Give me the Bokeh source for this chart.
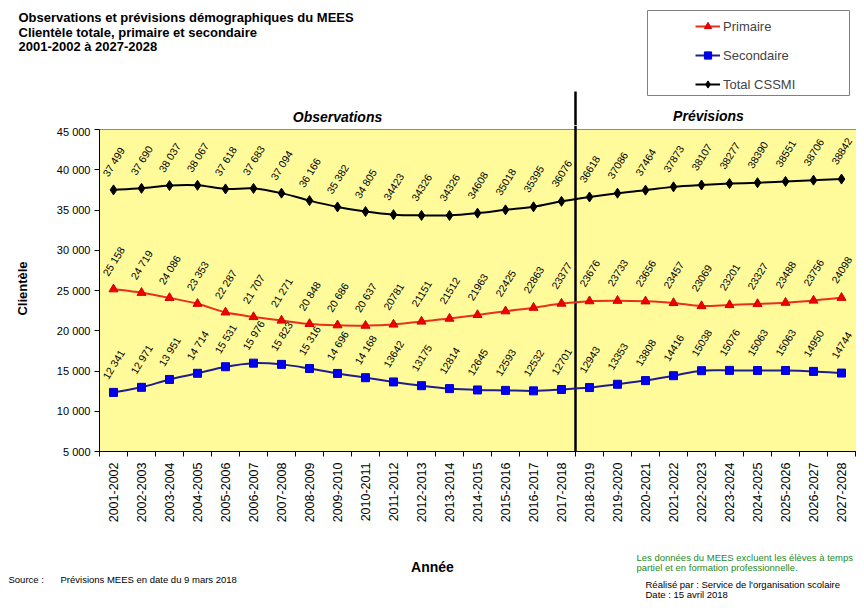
from math import pi, radians
from bokeh.plotting import figure
from bokeh.layouts import column
from bokeh.models import FixedTicker, Legend, LegendItem, ColumnDataSource, Range1d
from bokeh.embed import file_html
from bokeh.resources import INLINE
from bokeh.core.properties import value

# ---------------- data ----------------
years = ["2001-2002", "2002-2003", "2003-2004", "2004-2005", "2005-2006", "2006-2007",
         "2007-2008", "2008-2009", "2009-2010", "2010-2011", "2011-2012", "2012-2013",
         "2013-2014", "2014-2015", "2015-2016", "2016-2017", "2017-2018", "2018-2019",
         "2019-2020", "2020-2021", "2021-2022", "2022-2023", "2023-2024", "2024-2025",
         "2025-2026", "2026-2027", "2027-2028"]
primaire = [25158, 24719, 24086, 23353, 22287, 21707, 21271, 20848, 20686, 20637,
            20781, 21151, 21512, 21963, 22425, 22863, 23377, 23676, 23733, 23656,
            23457, 23069, 23201, 23327, 23488, 23756, 24098]
secondaire = [12341, 12971, 13951, 14714, 15531, 15976, 15823, 15316, 14696, 14168,
              13642, 13175, 12814, 12645, 12593, 12532, 12701, 12943, 13353, 13808,
              14416, 15038, 15076, 15063, 15063, 14950, 14744]
total = [37499, 37690, 38037, 38067, 37618, 37683, 37094, 36166, 35382, 34805,
         34423, 34326, 34326, 34608, 35018, 35395, 36076, 36618, 37086, 37464,
         37873, 38107, 38277, 38390, 38551, 38706, 38842]
y_ticks = [5000, 10000, 15000, 20000, 25000, 30000, 35000, 40000, 45000]
y_tick_labels = ["5 000", "10 000", "15 000", "20 000", "25 000", "30 000", "35 000",
                 "40 000", "45 000"]
series_names = ["Primaire", "Secondaire", "Total CSSMI"]
n_observed = 17        # 2001-2002 .. 2017-2018 are observations
n_spaced = 10          # first labels are written with a thousands space

# ---------------- geometry (figure pixels) ----------------
W, H = 856, 600
FL = 99                      # frame left
HT = 125                     # header height = main frame top
FB = 451                     # main frame bottom (y = 5000)
MB = 530                     # bottom of main figure
SX = 28.0                    # px per category
SY = 8.05 / 1000.0           # px per unit
Y0 = y_ticks[0]

def cx(px):                  # pixel -> category coordinate
    return -0.5 + (px - FL) / SX

FONT = "Liberation Sans"
PRIM_LINE, PRIM_MK = "#E8301C", "#F00000"
SEC_LINE, SEC_MK = "#1E1E8C", "#0000F0"

def bare(fig):
    fig.outline_line_color = None
    fig.xgrid.visible = False
    fig.ygrid.visible = False
    fig.background_fill_color = "white"
    fig.border_fill_color = "white"
    fig.frame_align = False

# ---------------- header ----------------
hd = figure(width=W, height=HT, output_backend="svg", toolbar_location=None,
            x_range=Range1d(cx(0), cx(W)), y_range=Range1d(HT, 0),
            x_axis_location=None, y_axis_location=None,
            min_border_left=0, min_border_right=0, min_border_top=0, min_border_bottom=0)
bare(hd)

def htext(txt, px, py, size, style="bold", align="left", color="black"):
    hd.text(x=[cx(px)], y=[py], text=[txt], text_font=value(FONT), text_font_size=size,
            text_font_style=style, text_align=align, text_baseline="middle",
            text_color=color)

htext("Observations et prévisions démographiques du MEES", 18, 17, "13px")
htext("Clientèle totale, primaire et secondaire", 18, 31.5, "13px")
htext("2001-2002 à 2027-2028", 18, 46, "13px")
htext("Observations", 337, 116, "14px", style="bold italic", align="center")
htext("Prévisions", 708, 115, "14px", style="bold italic", align="center")
hd.segment(x0=n_observed - 0.5, y0=HT, x1=n_observed - 0.5, y1=91,
           line_color="black", line_width=2.5)
hd.quad(left=cx(647), right=cx(849), bottom=95, top=10,
        fill_color="white", line_color="#808080", line_width=1)

# legend samples: renderers whose single point lies outside the header view
off_x, off_y = [cx(-300)], [-300]
r = []
r.append((hd.line(off_x, off_y, line_color=PRIM_LINE, line_width=2),
          hd.scatter(off_x, off_y, marker="triangle", size=9, fill_color=PRIM_MK, line_color="#D00000")))
r.append((hd.line(off_x, off_y, line_color=SEC_LINE, line_width=2),
          hd.scatter(off_x, off_y, marker="square", size=8, fill_color=SEC_MK, line_color="#0000C8")))
r.append((hd.line(off_x, off_y, line_color="black", line_width=2),
          hd.scatter(off_x, off_y, marker="diamond", size=10, fill_color="black", line_color="black")))
legend = Legend(items=[LegendItem(label=n, renderers=list(rr)) for n, rr in zip(series_names, r)],
                location=(695, HT - 93), padding=0, margin=0, spacing=11,
                glyph_width=25, glyph_height=18, label_height=18, label_standoff=3,
                label_text_font=FONT, label_text_font_size="13px",
                border_line_alpha=0, background_fill_alpha=0)
hd.add_layout(legend)

# ---------------- main chart ----------------
p = figure(width=W, height=MB - HT, output_backend="svg", toolbar_location=None,
           x_range=Range1d(-0.5, cx(W)), y_range=Range1d(Y0, Y0 + (FB - HT) / SY),
           min_border_left=FL, min_border_right=0, min_border_top=0,
           min_border_bottom=MB - FB)
bare(p)

xs = list(range(len(years)))

p.quad(left=-0.5, right=len(years) + 1, bottom=y_ticks[0], top=y_ticks[-1],
       fill_color="#FFFB9B", line_color="#8C8C8C", line_width=1)
p.segment(x0=n_observed - 0.5, y0=y_ticks[0], x1=n_observed - 0.5, y1=Y0 + (FB - HT) / SY,
          line_color="black", line_width=2.5)

def fmt(v, i):
    s = str(v)
    if i < n_spaced:
        s = s[:-3] + " " + s[-3:]
    return s

def smooth(ys):
    n = len(ys)
    d = dict(x0=[], y0=[], x1=[], y1=[], cx0=[], cy0=[], cx1=[], cy1=[])
    for i in range(n - 1):
        a, b = max(i - 1, 0), min(i + 2, n - 1)
        d["x0"].append(xs[i]); d["y0"].append(ys[i])
        d["x1"].append(xs[i + 1]); d["y1"].append(ys[i + 1])
        d["cx0"].append(xs[i] + (xs[i + 1] - xs[a]) / 6)
        d["cy0"].append(ys[i] + (ys[i + 1] - ys[a]) / 6)
        d["cx1"].append(xs[i + 1] - (xs[b] - xs[i]) / 6)
        d["cy1"].append(ys[i + 1] - (ys[b] - ys[i]) / 6)
    return ColumnDataSource(d)

styles = [
    (primaire, PRIM_LINE, dict(marker="triangle", size=9, fill_color=PRIM_MK, line_color="#D00000")),
    (secondaire, SEC_LINE, dict(marker="square", size=8, fill_color=SEC_MK, line_color="#0000C8")),
    (total, "black", dict(marker="diamond", size=10, fill_color="black", line_color="black")),
]
for ys, lc, mk in styles:
    p.bezier(x0="x0", y0="y0", x1="x1", y1="y1", cx0="cx0", cy0="cy0", cx1="cx1",
             cy1="cy1", source=smooth(ys), line_color=lc, line_width=2)
for ys, lc, mk in styles:
    p.scatter(xs, ys, **mk)
for ys, lc, mk in styles:
    p.text(xs, ys, text=[fmt(v, i) for i, v in enumerate(ys)], angle=radians(58),
           text_align="center", text_baseline="middle", y_offset=-28,
           text_font=value(FONT), text_font_size="10.5px", text_color="black")

xa = p.xaxis[0]
xa.ticker = FixedTicker(ticks=xs, minor_ticks=[i - 0.5 for i in range(len(years) + 1)])
xa.major_label_overrides = {i: y for i, y in enumerate(years)}
xa.major_label_orientation = pi / 2
xa.major_tick_out = 0
xa.major_tick_in = 0
xa.minor_tick_out = 5
xa.minor_tick_in = 0
xa.minor_tick_line_color = "black"
xa.axis_line_color = "black"
xa.major_label_text_font = FONT
xa.major_label_text_font_size = "12.5px"
xa.major_label_text_color = "black"
xa.major_label_standoff = 6

ya = p.yaxis[0]
ya.ticker = FixedTicker(ticks=y_ticks, minor_ticks=[])
ya.major_label_overrides = {t: l for t, l in zip(y_ticks, y_tick_labels)}
ya.bounds = (y_ticks[0], y_ticks[-1])
ya.axis_line_color = "black"
ya.major_tick_out = 5
ya.major_tick_in = 0
ya.minor_tick_out = 0
ya.major_label_text_font = FONT
ya.major_label_text_font_size = "11px"
ya.major_label_text_color = "black"
ya.major_label_standoff = 4
ya.axis_label = "Clientèle"
ya.axis_label_text_font = FONT
ya.axis_label_text_font_size = "13px"
ya.axis_label_text_font_style = "bold"
ya.axis_label_text_color = "black"
ya.axis_label_standoff = 24

# ---------------- footer ----------------
ft = figure(width=W, height=H - MB, output_backend="svg", toolbar_location=None,
            x_range=Range1d(0, W), y_range=Range1d(H, MB),
            x_axis_location=None, y_axis_location=None,
            min_border_left=0, min_border_right=0, min_border_top=0, min_border_bottom=0)
bare(ft)

def ftext(txt, px, py, size, style="normal", align="left", color="black"):
    ft.text(x=[px], y=[py], text=[txt], text_font=value(FONT), text_font_size=size,
            text_font_style=style, text_align=align, text_baseline="middle",
            text_color=color)

ftext("Année", 432, 566, "14px", style="bold", align="center")
ftext("Les données du MEES excluent les élèves à temps", 636, 557, "9.5px", color="#1F8A1F")
ftext("partiel et en formation professionnelle.", 636, 567, "9.5px", color="#1F8A1F")
ftext("Source :", 8, 579, "9.5px")
ftext("Prévisions MEES  en date du 9 mars 2018", 60, 579, "9.5px")
ftext("Réalisé par : Service de l'organisation scolaire", 645, 584, "9.5px")
ftext("Date : 15 avril 2018", 645, 594, "9.5px")

layout = column(hd, p, ft, spacing=0)
open("out.html", "w").write(file_html(layout, INLINE))
